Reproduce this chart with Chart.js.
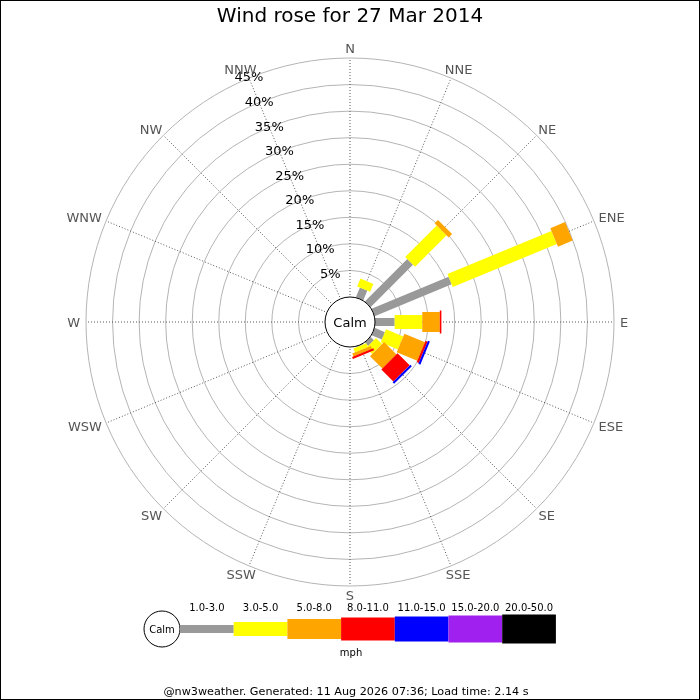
<!DOCTYPE html>
<html>
<head>
<meta charset="utf-8">
<script src="https://cdn.jsdelivr.net/npm/chart.js@4.4.1/dist/chart.umd.min.js"></script>
<style>
html,body{margin:0;padding:0;background:#fff;}
#wrap{width:700px;height:700px;position:relative;}
</style>
</head>
<body>
<div id="wrap"><canvas id="c"></canvas></div>
<script>
// ---- data ----
const directions = ['N','NNE','NE','ENE','E','ESE','SE','SSE','S','SSW','SW','WSW','W','WNW','NW','NNW'];
const speedBins = ['1.0-3.0','3.0-5.0','5.0-8.0','8.0-11.0','11.0-15.0','15.0-20.0','20.0-50.0'];
//                 N  NNE   NE    ENE   E    ESE   SE    SSE  S SSW SW WSW W WNW NW NNW
const speed1to3   = [0, 2.0, 11.3, 15.7, 3.7, 2.1, 0.9, 0.15, 0,0,0,0,0,0,0,0];
const speed3to5   = [0, 1.6,  8.4, 21.2, 5.2, 3.5, 1.6, 0.8,  0,0,0,0,0,0,0,0];
const speed5to8   = [0, 0,    0.9,  3.0, 3.3, 4.2, 3.3, 0.6,  0,0,0,0,0,0,0,0];
const speed8to11  = [0, 0,    0,    0,   0.3, 0.4, 3.2, 0.4,  0,0,0,0,0,0,0,0];
const speed11to15 = [0, 0,    0,    0,   0,   0.4, 0.4, 0,    0,0,0,0,0,0,0,0];
const speed15to20 = [0, 0,    0,    0,   0,   0,   0,   0,    0,0,0,0,0,0,0,0];
const speed20to50 = [0, 0,    0,    0,   0,   0,   0,   0,    0,0,0,0,0,0,0,0];
const ringTicks   = [5,10,15,20,25,30,35,40,45];
const tickLabels  = ['5%','10%','15%','20%','25%','30%','35%','40%','45%'];
const calmLabel = 'Calm';
const unitLabel = 'mph';
const titleText = 'Wind rose for 27 Mar 2014';
const footerText = '@nw3weather. Generated: 11 Aug 2026 07:36; Load time: 2.14 s';

// ---- styles ----
const binColors = ['#999999','#ffff00','#ffa500','#ff0000','#0000ff','#a020f0','#000000'];
const binWidths = [8,14,20,23,25,27,29];
const seriesValues = [speed1to3,speed3to5,speed5to8,speed8to11,speed11to15,speed15to20,speed20to50];
const CALM_PX = 25, RADIUS_PX = 264, MAXV = 45;
const RMIN = -CALM_PX * MAXV / (RADIUS_PX - CALM_PX);
const FONT = "'DejaVu Sans', sans-serif";

const windPlugin = {
  id: 'windrose',
  afterDatasetsDraw(chart) {
    const ctx = chart.ctx;
    const s = chart.scales.r;
    ctx.save();
    // bars
    ctx.lineCap = 'butt';
    for (let i = 0; i < directions.length; i++) {
      let cum = 0;
      for (let b = 0; b < seriesValues.length; b++) {
        const v = seriesValues[b][i];
        if (!v) continue;
        const p1 = s.getPointPosition(i, s.getDistanceFromCenterForValue(cum));
        const p2 = s.getPointPosition(i, s.getDistanceFromCenterForValue(cum + v));
        ctx.beginPath();
        ctx.strokeStyle = binColors[b];
        ctx.lineWidth = binWidths[b];
        ctx.moveTo(p1.x, p1.y);
        ctx.lineTo(p2.x, p2.y);
        ctx.stroke();
        cum += v;
      }
    }
    // calm circle
    const rc = s.getDistanceFromCenterForValue(0);
    ctx.beginPath();
    ctx.arc(s.xCenter, s.yCenter, rc, 0, Math.PI * 2);
    ctx.fillStyle = '#fff';
    ctx.fill();
    ctx.lineWidth = 1;
    ctx.strokeStyle = '#000';
    ctx.stroke();
    ctx.fillStyle = '#000';
    ctx.font = '13px ' + FONT;
    ctx.textAlign = 'center';
    ctx.textBaseline = 'alphabetic';
    ctx.fillText(calmLabel, s.xCenter, s.yCenter + 4.7);
    // tick labels along NNW
    const nnw = directions.indexOf('NNW');
    ctx.textBaseline = 'middle';
    ringTicks.forEach((v, k) => {
      const p = s.getPointPosition(nnw, s.getDistanceFromCenterForValue(v));
      ctx.fillText(tickLabels[k], p.x, p.y);
    });
    // direction labels
    ctx.fillStyle = '#555';
    ctx.textBaseline = 'alphabetic';
    const outer = s.getDistanceFromCenterForValue(MAXV);
    directions.forEach((d, i) => {
      const a = i * Math.PI * 2 / directions.length;
      const p = s.getPointPosition(i, outer);
      const w = ctx.measureText(d).width;
      const cx = p.x + Math.sin(a) * (w / 2 + 6);
      const cy = p.y - Math.cos(a) * (4.75 + 4.5);
      ctx.fillText(d, cx, cy + 4.74);
    });
    // legend
    const ly = 629, lx0 = 180, segW = 53.7;
    ctx.beginPath();
    ctx.arc(162, ly, 18, 0, Math.PI * 2);
    ctx.fillStyle = '#fff';
    ctx.fill();
    ctx.strokeStyle = '#000';
    ctx.lineWidth = 1;
    ctx.stroke();
    ctx.fillStyle = '#000';
    ctx.font = '10px ' + FONT;
    ctx.fillText(calmLabel, 162, ly + 3.6);
    speedBins.forEach((lab, b) => {
      const x = lx0 + b * segW;
      ctx.fillStyle = binColors[b];
      ctx.fillRect(x, ly - binWidths[b] / 2, segW, binWidths[b]);
      ctx.fillStyle = '#000';
      ctx.fillText(lab, x + segW / 2, 610.6);
    });
    ctx.fillText(unitLabel, 351, 655.5);
    ctx.font = '11.2px ' + FONT;
    ctx.fillText(footerText, 346, 695);
    // border
    ctx.strokeStyle = '#000';
    ctx.lineWidth = 1;
    ctx.strokeRect(0.5, 0.5, chart.width - 1, chart.height - 1);
    ctx.restore();
  }
};

new Chart(document.getElementById('c'), {
  type: 'radar',
  data: {
    labels: directions,
    datasets: speedBins.map((lab, b) => ({
      label: lab,
      data: seriesValues[b],
      showLine: false,
      pointRadius: 0,
      pointHitRadius: 0,
      borderColor: binColors[b],
      backgroundColor: binColors[b],
      fill: false
    }))
  },
  options: {
    responsive: true,
    maintainAspectRatio: false,
    animation: false,
    events: [],
    layout: { padding: { left: 86, right: 86, top: 0, bottom: 114 } },
    font: { family: FONT },
    plugins: {
      legend: { display: false },
      tooltip: { enabled: false },
      title: {
        display: true,
        text: titleText,
        color: '#000',
        font: { family: FONT, size: 20, weight: 'normal', lineHeight: 1.2 },
        padding: { top: 5, bottom: 29 }
      }
    },
    scales: {
      r: {
        min: RMIN,
        max: MAXV,
        startAngle: 0,
        afterBuildTicks: (sc) => {
          sc.min = RMIN; sc.max = MAXV;
          sc.ticks = ringTicks.map(v => ({ value: v }));
        },
        ticks: { display: false },
        grid: { circular: true, color: '#b4b4b4', lineWidth: 1 },
        angleLines: { display: true, color: '#555', lineWidth: 1, borderDash: [1, 2] },
        pointLabels: { display: false }
      }
    }
  },
  plugins: [windPlugin]
});
</script>
</body>
</html>
